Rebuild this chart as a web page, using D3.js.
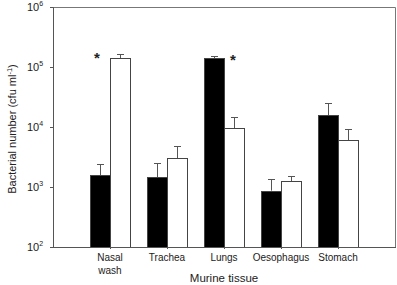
<!DOCTYPE html>
<html>
<head>
<meta charset="UTF-8">
<script src="https://d3js.org/d3.v7.min.js"></script>
<style>
  body { margin: 0; background: #fff; }
  text { font-family: "Liberation Sans", Arial, sans-serif; fill: #222; }
</style>
</head>
<body>
<script>
  // tissue categories, the two series (black / white bars) and their upper error bars
  const tissues = [["Nasal", "wash"], ["Trachea"], ["Lungs"], ["Oesophagus"], ["Stomach"]];
  const blackVals = [1580, 1450, 140000, 870, 15800];
  const blackErr = [2400, 2500, 150000, 1350, 25000];
  const whiteVals = [140000, 3000, 9500, 1250, 6000];
  const whiteErr = [165000, 4900, 14500, 1550, 9100];
  const yTickExps = [2, 3, 4, 5, 6];
  // significance stars: category index
  const stars = [0, 2];

  const width = 397, height = 285;
  const pLeft = 53, pRight = 395, pTop = 7, pBottom = 247;
  const barW = 20;

  const svg = d3.select("body").append("svg")
    .attr("width", width).attr("height", height);

  const x = d3.scaleLinear().domain([0, tissues.length + 1]).range([pLeft, pRight]);
  const y = d3.scaleLog().domain([100, 1e6]).range([pBottom, pTop]);

  const series = [
    { vals: blackVals, err: blackErr, fill: "#000", off: -barW },
    { vals: whiteVals, err: whiteErr, fill: "#fff", off: 0 }
  ];

  // frame (top and right)
  svg.append("path")
    .attr("d", `M${pLeft},${pTop + 0.5}H${pRight + 0.5}V${pBottom}`)
    .attr("fill", "none").attr("stroke", "#777").attr("stroke-width", 1);

  series.forEach(s => {
    const g = svg.append("g");
    // error bars (upper only)
    g.selectAll("path.err").data(s.vals).enter().append("path")
      .attr("class", "err")
      .attr("d", (d, i) => {
        const cx = Math.round(x(i + 1) + s.off + barW / 2) + 0.5;
        const ty = Math.round(y(s.err[i])) + 0.5;
        return `M${cx},${y(d)}V${ty}M${cx - 3.5},${ty}H${cx + 3.5}`;
      })
      .attr("fill", "none").attr("stroke", "#555").attr("stroke-width", 1);
    g.selectAll("rect").data(s.vals).enter().append("rect")
      .attr("x", (d, i) => Math.round(x(i + 1) + s.off) + 0.5)
      .attr("y", d => Math.round(y(d)) + 0.5)
      .attr("width", barW)
      .attr("height", d => pBottom - Math.round(y(d)))
      .attr("fill", s.fill)
      .attr("stroke", "#444").attr("stroke-width", 1);
  });

  // y axis
  const yAxis = d3.axisLeft(y).tickValues(yTickExps.map(e => Math.pow(10, e)))
    .tickSize(3).tickFormat("");
  const ya = svg.append("g").attr("transform", `translate(${pLeft},0)`).call(yAxis);
  ya.select(".domain").attr("stroke", "#555");
  ya.selectAll(".tick line").attr("stroke", "#555");
  const yl = svg.append("g");
  yTickExps.forEach(e => {
    const t = yl.append("text")
      .attr("x", 27).attr("y", y(Math.pow(10, e)) + 4)
      .attr("font-size", 11);
    t.append("tspan").text("10");
    t.append("tspan").attr("dy", -5).attr("font-size", 7).text(e);
  });

  // x axis
  const xAxis = d3.axisBottom(x).tickValues(d3.range(1, tissues.length + 1))
    .tickSize(2).tickFormat("");
  const xa = svg.append("g").attr("transform", `translate(0,${pBottom})`).call(xAxis);
  xa.select(".domain").attr("stroke", "#555").attr("d", `M${pLeft - 3},0.5H${pRight + 1}`);
  xa.selectAll(".tick line").attr("stroke", "#555");

  tissues.forEach((lines, i) => {
    const t = svg.append("text")
      .attr("x", x(i + 1)).attr("y", 261)
      .attr("text-anchor", "middle").attr("font-size", 10);
    lines.forEach((l, j) => t.append("tspan").attr("x", x(i + 1)).attr("dy", j ? 12.5 : 0).text(l));
  });

  // stars above the shorter bar of each significant pair
  stars.forEach(i => {
    const blackShort = blackVals[i] < whiteVals[i];
    const cx = x(i + 1) + (blackShort ? -barW / 2 - 3 : barW / 2 - 1);
    const topY = y(Math.max(blackErr[i], whiteErr[i]));
    svg.append("text")
      .attr("x", cx).attr("y", topY + 9)
      .attr("text-anchor", "middle")
      .attr("font-size", 15).attr("font-weight", "bold")
      .text("*");
  });

  // axis titles
  svg.append("text")
    .attr("x", (pLeft + pRight) / 2).attr("y", 282)
    .attr("text-anchor", "middle").attr("font-size", 11.5)
    .text("Murine tissue");

  const yt = svg.append("text")
    .attr("transform", `translate(16,129) rotate(-90)`)
    .attr("text-anchor", "middle").attr("font-size", 11);
  yt.append("tspan").text("Bacterial number (cfu ml");
  yt.append("tspan").attr("dy", -4).attr("font-size", 7.5).text("-1");
  yt.append("tspan").attr("dy", 4).text(")");
</script>
</body>
</html>
